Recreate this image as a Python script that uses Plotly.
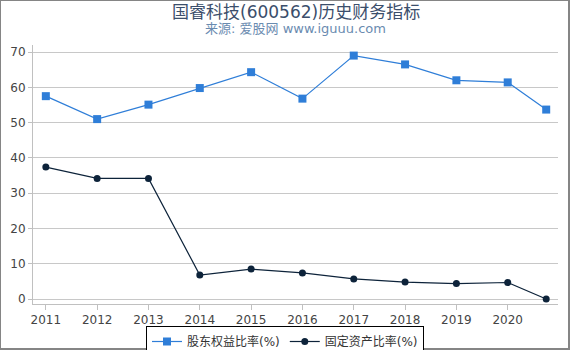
import plotly.graph_objects as go

years = [2011, 2012, 2013, 2014, 2015, 2016, 2017, 2018, 2019, 2020, 2020.75]
equity_ratio = [57.5, 51.0, 55.1, 59.8, 64.3, 56.8, 69.0, 66.5, 62.0, 61.4, 53.7]
fixed_asset_ratio = [37.4, 34.2, 34.2, 6.8, 8.5, 7.4, 5.7, 4.8, 4.4, 4.7, 0.0]
tick_years = [2011, 2012, 2013, 2014, 2015, 2016, 2017, 2018, 2019, 2020]
tick_labels = [str(y) for y in tick_years]

font_family = "DejaVu Sans, Noto Sans CJK SC, sans-serif"
W, H = 570, 350
L, R, T, B = 33, 12, 45, 46
PW, PH = W - L - R, H - T - B

def px_x(p):
    return (p - L) / PW

def px_y(p):
    return (H - B - p) / PH

fig = go.Figure()
fig.add_trace(go.Scatter(
    x=years, y=equity_ratio, mode="lines+markers", name="股东权益比率(%)",
    line=dict(color="#2f7ed8", width=1.2),
    marker=dict(symbol="square", size=8, color="#2f7ed8"),
))
fig.add_trace(go.Scatter(
    x=years, y=fixed_asset_ratio, mode="lines+markers", name="固定资产比率(%)",
    line=dict(color="#0d233a", width=1.2),
    marker=dict(symbol="circle", size=7, color="#0d233a"),
))

fig.update_layout(
    width=W, height=H,
    margin=dict(l=L, r=R, t=T, b=B, autoexpand=False),
    paper_bgcolor="white", plot_bgcolor="white",
    font=dict(family=font_family, size=12, color="#444"),
    xaxis=dict(
        range=[2010.75, 2020.98], tickmode="array", tickvals=tick_years, ticktext=tick_labels,
        showgrid=False, showline=True, linecolor="#c0c0c0", linewidth=1,
        ticks="outside", ticklen=5, tickcolor="#c0c0c0",
        tickfont=dict(size=12, color="#444"), zeroline=False,
    ),
    yaxis=dict(
        range=[-1.4, 72], tickmode="array", tickvals=[0, 10, 20, 30, 40, 50, 60, 70],
        showgrid=True, gridcolor="#c8c8c8", gridwidth=1,
        showline=True, linecolor="#c0c0c0", linewidth=1,
        ticks="outside", ticklen=4, tickcolor="#c0c0c0",
        tickfont=dict(size=12, color="#444"), zeroline=False,
    ),
    legend=dict(
        orientation="h", x=0.5, xanchor="center", xref="container",
        y=1 - 326 / H, yanchor="top", yref="container",
        bordercolor="black", borderwidth=1, bgcolor="white",
        font=dict(size=12, color="#333", family=font_family),
        itemwidth=30, tracegroupgap=0,
    ),
    showlegend=True,
)

fig.add_annotation(text="国睿科技(600562)历史财务指标", xref="paper", yref="paper",
                   x=0.5, y=px_y(12), xanchor="center", yanchor="middle",
                   showarrow=False, font=dict(size=17, color="#3b4e6b", family=font_family))
fig.add_annotation(text="来源: 爱股网 www.iguuu.com", xref="paper", yref="paper",
                   x=0.5, y=px_y(29), xanchor="center", yanchor="middle",
                   showarrow=False, font=dict(size=13, color="#6a8bb0", family=font_family))

fig.add_shape(type="rect", xref="paper", yref="paper",
              x0=px_x(0), x1=px_x(569), y0=px_y(349), y1=px_y(0),
              line=dict(color="#858585", width=2), layer="above")

fig.write_html("out.html")
